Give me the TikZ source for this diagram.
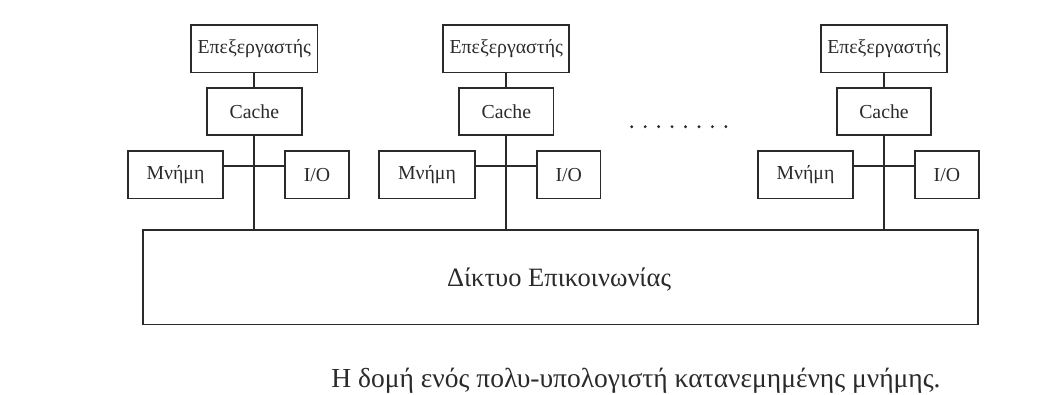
\documentclass[tikz,border=0pt]{standalone}
\usepackage{fontspec}
\setmainfont{Liberation Serif}
\definecolor{ink}{HTML}{2A2A2A}
\begin{document}
\begin{tikzpicture}[x=1pt,y=-1pt,
  box/.style={draw=ink,line width=1.7pt,text=ink,inner sep=0pt,anchor=center,font=\fontsize{19.8}{22}\selectfont},
  conn/.style={draw=ink,line width=1.7pt}]
\useasboundingbox (0,0) rectangle (1064,394);
% group 1
\node[box,minimum width=126.6pt,minimum height=47.3pt] (p1) at (254.3,48.7) {Επεξεργαστής};
\node[box,minimum width=95pt,minimum height=47pt] (c1) at (254.3,111.8) {Cache};
\node[box,minimum width=95.6pt,minimum height=47.3pt] (m1) at (175.5,174.7) {Μνήμη};
\node[box,minimum width=63.4pt,minimum height=47.3pt] (i1) at (317,174.7) {I/O};
% group 2
\node[box,minimum width=126pt,minimum height=47.3pt] (p2) at (506.3,48.7) {Επεξεργαστής};
\node[box,minimum width=94.3pt,minimum height=47pt] (c2) at (506.3,111.8) {Cache};
\node[box,minimum width=95.4pt,minimum height=47.3pt] (m2) at (427,174.7) {Μνήμη};
\node[box,minimum width=63.3pt,minimum height=47.3pt] (i2) at (568.7,174.7) {I/O};
% group 3
\node[box,minimum width=126pt,minimum height=47.3pt] (p3) at (884,48.7) {Επεξεργαστής};
\node[box,minimum width=94.3pt,minimum height=47pt] (c3) at (884,111.8) {Cache};
\node[box,minimum width=94.4pt,minimum height=47.3pt] (m3) at (805.5,174.7) {Μνήμη};
\node[box,minimum width=63.7pt,minimum height=47.3pt] (i3) at (946.9,174.7) {I/O};
% network
\node[box,minimum width=835pt,minimum height=94.3pt] (net) at (560.8,277.2) {};
\node[text=ink,inner sep=0pt,anchor=base,font=\fontsize{26.5}{30}\selectfont] (netlabel) at (559,286) {Δίκτυο Επικοινωνίας};
% connectors
\foreach \g in {1,2,3}{
  \draw[conn] (p\g.south) -- (c\g.north);
  \draw[conn] (c\g.south) -- (c\g.south |- net.north);
  \coordinate (h\g) at ([yshift=8.7pt]m\g.east);
  \draw[conn] (h\g) -- (h\g -| i\g.west);
}
% dots
\foreach \k in {0,...,7}{
  \fill[ink] (631.7+13.45*\k,126.7) circle (1.6pt);
}
% caption
\node[text=ink,inner sep=0pt,anchor=base,font=\fontsize{27.5}{30}\selectfont] (cap) at (636,387) {Η δομή ενός πολυ-υπολογιστή κατανεμημένης μνήμης.};
\end{tikzpicture}
\end{document}
